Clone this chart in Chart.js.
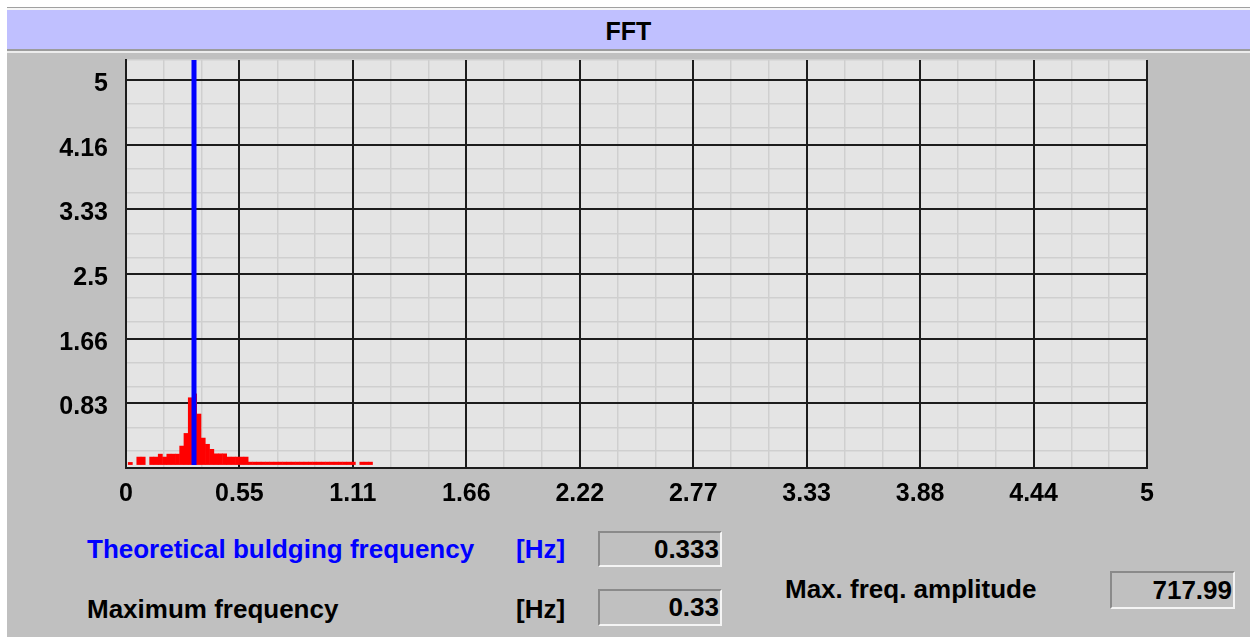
<!DOCTYPE html>
<html><head><meta charset="utf-8">
<script src="https://cdn.jsdelivr.net/npm/chart.js@4"></script>
<style>
html,body{margin:0;padding:0;background:#fff;width:1250px;height:637px;overflow:hidden;font-family:"Liberation Sans",Arial,sans-serif;}
.abs{position:absolute;}
#panel{left:7px;top:53px;width:1243px;height:584px;background:#c0c0c0;}
#title{left:7px;top:10px;width:1243px;height:39px;background:#c0c0ff;text-align:center;line-height:43px;font-weight:bold;font-size:25px;color:#000;}
.lbl{font-weight:bold;font-size:26px;line-height:36px;height:36px;white-space:nowrap;}
.box{box-sizing:border-box;border:2px solid;border-color:#8a8a8a #f4f4f4 #f4f4f4 #8a8a8a;text-align:right;font-weight:bold;font-size:26px;padding-right:1px;color:#000;white-space:nowrap;}
#wrap{left:0;top:53px;width:1250px;height:470px;}
</style></head>
<body>
<div class="abs" style="left:7px;top:7px;width:1243px;height:1px;background:#a0a0a0"></div>
<div class="abs" style="left:7px;top:8px;width:1243px;height:2px;background:#f6f6f6"></div>
<div class="abs" id="title">FFT</div>
<div class="abs" style="left:7px;top:49px;width:1243px;height:2px;background:#9c9c9c"></div>
<div class="abs" style="left:7px;top:51px;width:1243px;height:2px;background:#ececec"></div>
<div class="abs" id="panel"></div>
<div class="abs" id="wrap"><canvas id="c" width="1250" height="470"></canvas></div>

<div class="abs lbl" style="left:87px;top:531px;color:#0000ff">Theoretical buldging frequency</div>
<div class="abs lbl" style="left:516px;top:531px;color:#0000ff">[Hz]</div>
<div class="abs box" style="left:598px;top:531px;width:124px;height:36px;line-height:32px">0.333</div>

<div class="abs lbl" style="left:87px;top:591px;color:#000">Maximum frequency</div>
<div class="abs lbl" style="left:516px;top:591px;color:#000">[Hz]</div>
<div class="abs box" style="left:598px;top:589px;width:124px;height:37px;line-height:33px">0.33</div>

<div class="abs lbl" style="left:785px;top:571px;color:#000">Max. freq. amplitude</div>
<div class="abs box" style="left:1110px;top:571px;width:125px;height:38px;line-height:34px">717.99</div>

<script>
// ---- data ----
const freqHz = [0.021,0.042,0.063,0.084,0.105,0.126,0.147,0.168,0.189,0.210,
  0.231,0.252,0.273,0.294,0.315,0.336,0.357,0.378,0.399,0.420,
  0.441,0.462,0.483,0.504,0.525,0.546,0.567,0.588,0.609,0.630,
  0.651,0.672,0.693,0.714,0.735,0.756,0.777,0.798,0.819,0.840,
  0.861,0.882,0.903,0.924,0.945,0.966,0.987,1.008,1.029,1.050,
  1.071,1.092,1.113,1.134,1.155,1.176,1.197];
const amplitude = [0.076,null,0.145,0.145,null,0.145,0.145,0.183,0.145,0.183,
  0.183,0.183,0.287,0.45,0.91,0.96,0.70,0.39,0.31,0.245,
  0.187,0.187,0.187,0.145,0.145,0.145,0.145,0.145,0.08,0.08,
  0.08,0.08,0.08,0.08,0.08,0.08,0.08,0.08,0.08,0.08,
  0.08,0.08,0.08,0.08,0.08,0.08,0.08,0.08,0.08,0.08,
  0.08,0.08,0.08,null,0.08,0.08,0.08];
const theoreticalFreq = 0.333;
const xTickLabels = ['0','0.55','1.11','1.66','2.22','2.77','3.33','3.88','4.44','5'];
const yTickLabels = ['0.83','1.66','2.5','3.33','4.16','5'];
const X_MAX = 5;
const Y_MAX = 5.26;
const BAR_BASE = 0.04;

const tickFont = {family:'"Liberation Sans", Arial, sans-serif', size:25, weight:'bold'};
const MAJOR = '#1c1c1c', MINOR = '#cfcfcf';

const plotBg = {id:'plotBg', beforeDraw(chart){
  const {ctx, chartArea:a} = chart;
  ctx.save(); ctx.fillStyle = '#e4e4e4';
  ctx.fillRect(a.left, a.top, a.right - a.left, a.bottom - a.top);
  ctx.restore();
}};
function noPad(s){ s.paddingTop=0; s.paddingBottom=0; s.paddingLeft=0; s.paddingRight=0; }

const yStep = 5/6;
new Chart(document.getElementById('c'), {
  type: 'bar',
  data: {
    datasets: [
      {type:'line', data:[{x:theoreticalFreq,y:BAR_BASE},{x:theoreticalFreq,y:Y_MAX}],
       borderColor:'#0000ff', borderWidth:5, pointRadius:0, borderCapStyle:'butt', order:0,
       xAxisID:'x', yAxisID:'y'},
      {type:'bar', data: freqHz.map((f,i)=>({x:f, y:amplitude[i]})),
       backgroundColor:'#ff0000', borderWidth:0, barPercentage:1.12, categoryPercentage:1,
       base: BAR_BASE, grouped:false, order:1, xAxisID:'x', yAxisID:'y'}
    ]
  },
  options: {
    responsive:false, animation:false, devicePixelRatio:1,
    layout:{padding:{top:7, right:103, left:0, bottom:0}},
    plugins:{legend:{display:false}, tooltip:{enabled:false}, title:{display:false}},
    scales:{
      xMinor:{type:'linear', min:0, max:X_MAX, offset:false, position:'bottom', weight:1,
        afterBuildTicks(s){ const t=[]; for(let k=1;k<27;k++){ if(k%3) t.push({value:k*X_MAX/27}); } s.ticks=t; },
        afterFit(s){ s.height=0; noPad(s); },
        ticks:{display:false}, grid:{color:MINOR, lineWidth:1.5, drawTicks:false, offset:false, z:-2}, border:{display:false}},
      yMinor:{type:'linear', min:0, max:Y_MAX, offset:false, position:'left', weight:1,
        afterBuildTicks(s){ const t=[]; for(let k=0;k<6;k++){ t.push({value:k*yStep+0.217}); t.push({value:k*yStep+0.525}); } t.push({value:Y_MAX}); s.ticks=t; },
        afterFit(s){ s.width=0; noPad(s); },
        ticks:{display:false}, grid:{color:MINOR, lineWidth:1.5, drawTicks:false, offset:false, z:-2}, border:{display:false}},
      x:{type:'linear', min:0, max:X_MAX, offset:false, position:'bottom', weight:0,
        afterBuildTicks(s){ s.ticks = xTickLabels.map((_,i)=>({value:i*X_MAX/9})); },
        afterFit(s){ s.height=55; noPad(s); },
        ticks:{autoSkip:false, maxRotation:0, padding:11, font:tickFont, color:'#000',
               callback:(v,i)=>xTickLabels[i]},
        grid:{color:MAJOR, lineWidth:2, drawTicks:false, offset:false, z:-1},
        border:{display:true, color:MAJOR, width:2}},
      y:{type:'linear', min:0, max:Y_MAX, offset:false, position:'left', weight:0,
        afterBuildTicks(s){ s.ticks = [{value:0}].concat(yTickLabels.map((_,i)=>({value:(i+1)*yStep}))); },
        afterFit(s){ s.width=126; noPad(s); },
        ticks:{autoSkip:false, padding:18, labelOffset:4, font:tickFont, color:'#000',
               callback:(v,i)=> i===0 ? '' : yTickLabels[i-1]},
        grid:{color:MAJOR, lineWidth:2, drawTicks:false, z:-1},
        border:{display:true, color:MAJOR, width:2}}
    }
  },
  plugins:[plotBg]
});
</script>
</body></html>
